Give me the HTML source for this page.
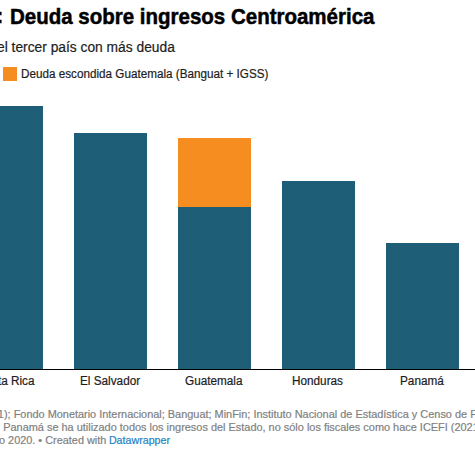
<!DOCTYPE html>
<html><head><meta charset="utf-8">
<style>
html,body{margin:0;padding:0;background:#fff;}
body{width:475px;height:475px;position:relative;overflow:hidden;font-family:"Liberation Sans",sans-serif;}
.t{position:absolute;white-space:nowrap;line-height:1;transform-origin:0 0;-webkit-text-stroke:0.2px currentColor;}
.bar{position:absolute;background:#1e5e76;}
.or{position:absolute;background:#f68d20;}
</style></head><body>
<div class="t" id="colon" style="left:-4px;top:5px;font-size:22px;-webkit-text-stroke:0.5px #000;font-weight:bold;color:#000;">:</div>
<div class="t" id="title" style="left:9.8px;top:5.5px;font-size:22px;font-weight:bold;color:#000;-webkit-text-stroke:0.5px #000;transform:scaleX(0.9315);">Deuda sobre ingresos Centroamérica</div>
<div class="t" id="sub" style="left:-2.9px;top:40px;font-size:14px;color:#1d1d1d;transform:scaleX(0.985);">el tercer país con más deuda</div>
<div class="or" style="left:3px;top:67px;width:14px;height:14px;"></div>
<div class="t" id="leg" style="left:21.1px;top:68px;font-size:12px;color:#1d1d1d;transform:scaleX(0.975);">Deuda escondida Guatemala (Banguat + IGSS)</div>

<div class="bar" style="left:-30px;top:106px;width:73px;height:263px;"></div>
<div class="bar" style="left:74px;top:133px;width:73px;height:236px;"></div>
<div class="or" style="left:178px;top:138px;width:73px;height:69px;"></div>
<div class="bar" style="left:178px;top:207px;width:73px;height:162px;"></div>
<div class="bar" style="left:282px;top:181px;width:73px;height:188px;"></div>
<div class="bar" style="left:386px;top:243px;width:73px;height:126px;"></div>
<div style="position:absolute;left:0;top:369px;width:475px;height:1px;background:#000;"></div>

<div class="t" id="x1" style="left:-23.4px;top:375px;font-size:12px;color:#1d1d1d;transform:scaleX(0.98);">Costa Rica</div>
<div class="t" id="x2" style="left:80.1px;top:375px;font-size:12px;color:#1d1d1d;transform:scaleX(0.98);">El Salvador</div>
<div class="t" id="x3" style="left:184.5px;top:375px;font-size:12px;color:#1d1d1d;transform:scaleX(0.98);">Guatemala</div>
<div class="t" id="x4" style="left:292px;top:375px;font-size:12px;color:#1d1d1d;transform:scaleX(0.98);">Honduras</div>
<div class="t" id="x5" style="left:399.5px;top:375px;font-size:12px;color:#1d1d1d;transform:scaleX(0.98);">Panamá</div>

<div class="t" id="f1" style="left:-24.2px;top:409px;font-size:11px;color:#7f7f7f;transform:scaleX(0.9928);">(2021); Fondo Monetario Internacional; Banguat; MinFin; Instituto Nacional de Estadística y Censo de Panamá</div>
<div class="t" id="f2" style="left:-12.3px;top:422.4px;font-size:11px;color:#7f7f7f;transform:scaleX(0.9933);">de Panamá se ha utilizado todos los ingresos del Estado, no sólo los fiscales como hace ICEFI (2021)</div>
<div class="t" id="f3" style="left:-1.2px;top:435px;font-size:11px;color:#7f7f7f;transform:scaleX(0.99);">o 2020. • Created with <span style="color:#1e82c4;display:inline-block;transform-origin:0 0;transform:scaleX(0.98)">Datawrapper</span></div>
</body></html>
